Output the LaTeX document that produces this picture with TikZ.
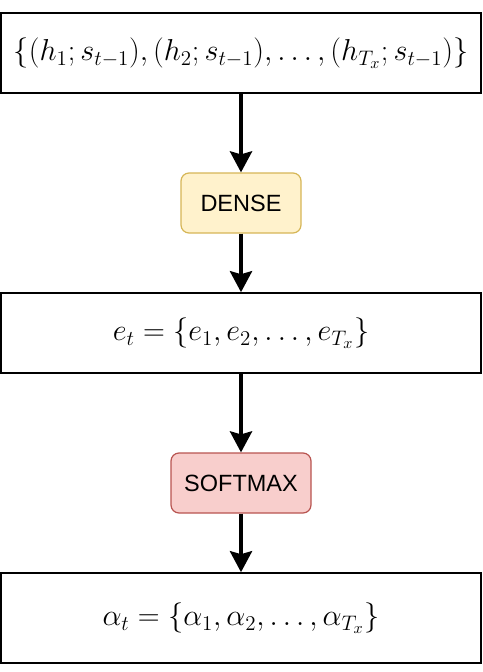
\documentclass[tikz,border=0pt]{standalone}
\usepackage{graphicx}
\usepackage{fontspec}
\newfontfamily\labelfont{Liberation Sans}
\usetikzlibrary{arrows.meta}
\definecolor{denseFill}{HTML}{FFF2CC}
\definecolor{denseDraw}{HTML}{D6B656}
\definecolor{softFill}{HTML}{F8CECC}
\definecolor{softDraw}{HTML}{B85450}
\newcommand{\bigmath}[1]{\scalebox{1.46}{\fontsize{22}{26}\selectfont$#1$}}
\tikzset{
  mathbox/.style={draw=black, line width=1.6pt, fill=white, minimum width=480pt, inner sep=0pt},
  opbox/.style={rounded corners=8pt, line width=1.2pt, minimum height=60pt, inner sep=0pt, font=\labelfont\fontsize{23.5}{28}\selectfont},
  flow/.style={line width=4pt, -{Stealth[length=21pt, width=22pt, inset=3pt]}, shorten >=0pt}
}
\begin{document}
\begin{tikzpicture}[x=1pt, y=-1pt]
\useasboundingbox (0,0) rectangle (482,672);
\node[mathbox, minimum height=80pt] (in) at (241,53) {\bigmath{\{(h_1;s_{t-1}),(h_2;s_{t-1}),\ldots,(h_{T_x};s_{t-1})\}}};
\node[opbox, fill=denseFill, draw=denseDraw, minimum width=120pt] (dense) at (241,203) {DENSE};
\node[mathbox, minimum height=80pt] (e) at (241,333) {\bigmath{e_t=\{e_1,e_2,\ldots,e_{T_x}\}}};
\node[opbox, fill=softFill, draw=softDraw, minimum width=140pt] (soft) at (241,483) {SOFTMAX};
\node[mathbox, minimum height=90pt] (a) at (241,618) {\bigmath{\alpha_t=\{\alpha_1,\alpha_2,\ldots,\alpha_{T_x}\}}};
\draw[flow] (in.south) -- (dense.north);
\draw[flow] (dense.south) -- (e.north);
\draw[flow] (e.south) -- (soft.north);
\draw[flow] (soft.south) -- (a.north);
\end{tikzpicture}
\end{document}
